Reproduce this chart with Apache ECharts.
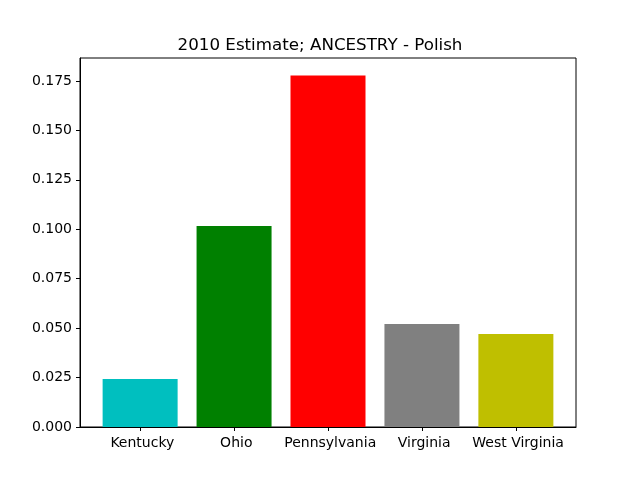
<!DOCTYPE html>
<html>
<head>
<meta charset="utf-8">
<script src="https://cdn.jsdelivr.net/npm/echarts@6/dist/echarts.min.js"></script>
<style>
  html, body { margin: 0; padding: 0; background: #fff; }
  #chart { width: 640px; height: 480px; }
</style>
</head>
<body>
<div id="chart"></div>
<script>
// data
const categories = [' Kentucky', ' Ohio', ' Pennsylvania', ' Virginia', ' West Virginia']
const values = [0.0243, 0.1017, 0.1778, 0.0521, 0.0470]
const colors = ['#00bfbf', '#008000', '#ff0000', '#808080', '#bfbf00']
const yTicks = [0, 0.025, 0.05, 0.075, 0.1, 0.125, 0.15, 0.175]

const chart = echarts.init(document.getElementById('chart'), null, { renderer: 'canvas' })

const font = 'DejaVu Sans'
const positions = categories.map((c, i) => i)

chart.setOption({
  animation: false,
  title: {
    text: '2010 Estimate; ANCESTRY - Polish',
    left: 'center',
    top: 32,
    textStyle: { fontFamily: font, fontSize: 16.7, fontWeight: 'normal', color: '#000' }
  },
  grid: { left: 80, right: 64, top: 58, bottom: 53, show: true, borderColor: '#000', borderWidth: 1 },
  xAxis: {
    type: 'value',
    min: -0.64,
    max: 4.64,
    splitLine: { show: false },
    axisLine: { show: true, onZero: false, lineStyle: { color: '#000' } },
    axisTick: { show: true, customValues: positions, length: 4, lineStyle: { color: '#000' } },
    axisLabel: {
      customValues: positions,
      formatter: v => categories[Math.round(v)],
      fontFamily: font, fontSize: 14, color: '#000', margin: 9
    }
  },
  yAxis: {
    type: 'value',
    min: 0,
    max: 0.1866,
    splitLine: { show: false },
    axisLine: { show: true, onZero: false, lineStyle: { color: '#000' } },
    axisTick: { show: true, customValues: yTicks, length: 4, lineStyle: { color: '#000' } },
    axisLabel: {
      customValues: yTicks,
      formatter: v => v.toFixed(3),
      fontFamily: font, fontSize: 14, color: '#000', margin: 8
    }
  },
  series: [
    {
      type: 'bar',
      barWidth: 75,
      data: values.map((v, i) => ({ value: [i, v], itemStyle: { color: colors[i] } }))
    }
  ]
})
</script>
</body>
</html>
